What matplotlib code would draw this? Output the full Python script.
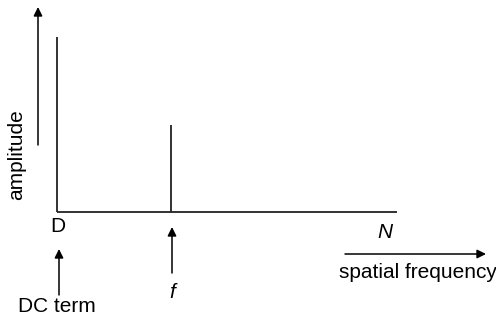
import matplotlib
matplotlib.use("Agg")
import matplotlib.pyplot as plt

plt.rcParams['font.family'] = ['Liberation Sans', 'DejaVu Sans']

# spectrum: DC term at 0, one component at f, axis ends at N
freqs = [0.0, 0.335]
amps = [1.0, 0.5]
n_max = 1.0
x_labels = ["D", "f", "N"]

W, H = 496, 323
fig = plt.figure(figsize=(W / 100, H / 100), dpi=100)

# axes placed so that the baseline sits at y=212 px, x from 57 to 397 px
ax = fig.add_axes([57 / W, 1 - 212 / H, 340 / W, 175 / H])
ax.set_xlim(0, n_max)
ax.set_ylim(0, 1.0)
ax.axis("off")

ax.vlines(freqs, 0, amps, color="#222222", lw=1.3, clip_on=False)
ax.hlines(0, 0, n_max, color="#222222", lw=1.3, clip_on=False)

fs = 15
def px(x, y):
    return (x / W, 1 - y / H)

arrow = dict(arrowstyle="-|>", color="black", lw=1.1, mutation_scale=13, shrinkA=0, shrinkB=0)

# amplitude arrow
fig.add_artist(plt.Annotation("", xy=px(38, 7), xytext=px(38, 145),
                              xycoords="figure fraction", textcoords="figure fraction",
                              arrowprops=arrow))
fig.text(*px(17, 155), "amplitude", rotation=90, ha="center", va="center", fontsize=fs)

# tick letters under baseline
ax.annotate(x_labels[0], xy=(freqs[0], 0), xytext=(1, -15), textcoords="offset pixels",
            ha="center", va="center", fontsize=fs, annotation_clip=False)
ax.annotate(x_labels[2], xy=(n_max, 0), xytext=(-12, -20), textcoords="offset pixels",
            ha="center", va="center", fontsize=fs, style="italic", annotation_clip=False)

# DC term arrow
fig.add_artist(plt.Annotation("", xy=px(59, 249), xytext=px(59, 295),
                              xycoords="figure fraction", textcoords="figure fraction",
                              arrowprops=arrow))
fig.text(*px(57, 306), "DC term", ha="center", va="center", fontsize=fs)

# f arrow
fig.add_artist(plt.Annotation("", xy=px(172, 227), xytext=px(172, 273),
                              xycoords="figure fraction", textcoords="figure fraction",
                              arrowprops=arrow))
fig.text(*px(172, 292), x_labels[1], ha="center", va="center", fontsize=fs, style="italic")

# spatial frequency arrow
fig.add_artist(plt.Annotation("", xy=px(486, 254), xytext=px(345, 254),
                              xycoords="figure fraction", textcoords="figure fraction",
                              arrowprops=arrow))
fig.text(*px(418, 272), "spatial frequency", ha="center", va="center", fontsize=fs)

fig.savefig("out.png", dpi=100)
